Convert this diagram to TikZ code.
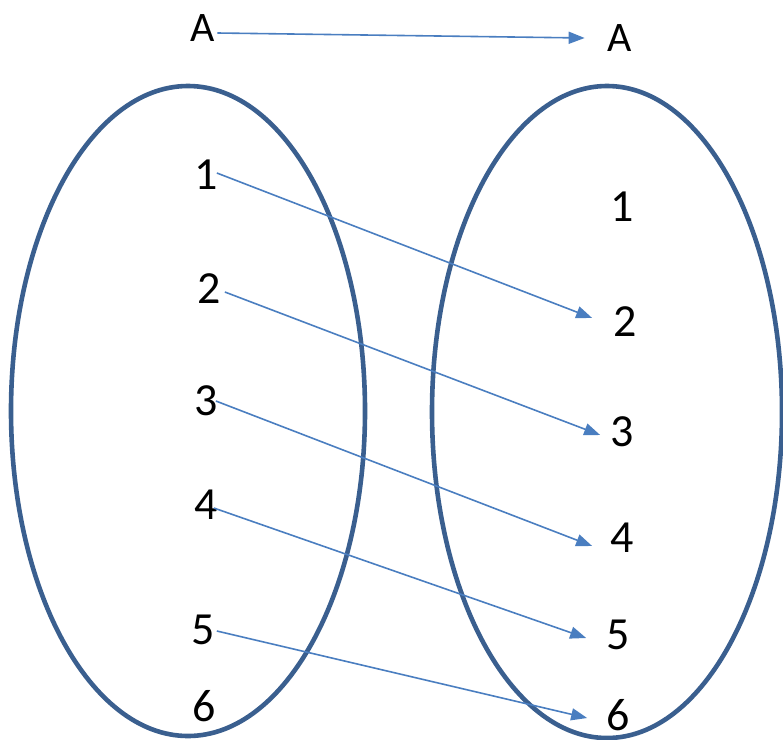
\documentclass[tikz,border=0pt]{standalone}
\usepackage{fontspec}
\setmainfont{Carlito}
\usetikzlibrary{arrows.meta,shapes.geometric}
\definecolor{ringblue}{HTML}{3A5F8F}
\definecolor{arrowblue}{HTML}{4A7EC0}
\begin{document}
\begin{tikzpicture}[x=1pt,y=-1pt,
  lab/.style={inner sep=0pt, font=\fontsize{46}{50}\selectfont},
  labA/.style={inner sep=0pt, font=\fontsize{42}{46}\selectfont},
  ring/.style={draw=ringblue, line width=4.6pt, ellipse, inner sep=0pt},
  link/.style={draw=arrowblue, line width=1.6pt, -{Triangle[length=16pt,width=12pt]}}]
\useasboundingbox (0,0) rectangle (783,739);
\node[ring, minimum width=354pt, minimum height=650pt] (setL) at (188,411) {};
\node[ring, minimum width=350pt, minimum height=652pt] (setR) at (607,412) {};
% left labels
\node[labA] (lA) at (203,28) {A};
\node[lab] (l1) at (206,175) {1};
\node[lab] (l2) at (209,289) {2};
\node[lab] (l3) at (206,401) {3};
\node[lab] (l4) at (206,505) {4};
\node[lab] (l5) at (203,630) {5};
\node[lab] (l6) at (204,706) {6};
% right labels
\node[labA] (rA) at (620,38) {A};
\node[lab] (r1) at (622,207) {1};
\node[lab] (r2) at (625,322) {2};
\node[lab] (r3) at (622,432) {3};
\node[lab] (r4) at (622,538) {4};
\node[lab] (r5) at (618,635) {5};
\node[lab] (r6) at (618,715) {6};
% arrows
\draw[link] ([shift={(2,5)}]lA.east) -- ([shift={(-23,0)}]rA.west);
\draw[link] ([shift={(-1,-2)}]l1.east) -- ([shift={(-21,-4)}]r2.west);
\draw[link] ([shift={(4,3)}]l2.east) -- ([shift={(-10,3)}]r3.west);
\draw[link] ([shift={(-2,0)}]l3.east) -- ([shift={(-18,8)}]r4.west);
\draw[link] ([shift={(-4,3)}]l4.east) -- ([shift={(-20,3)}]r5.west);
\draw[link] ([shift={(2,1)}]l5.east) -- ([shift={(-19,3)}]r6.west);
\end{tikzpicture}
\end{document}
